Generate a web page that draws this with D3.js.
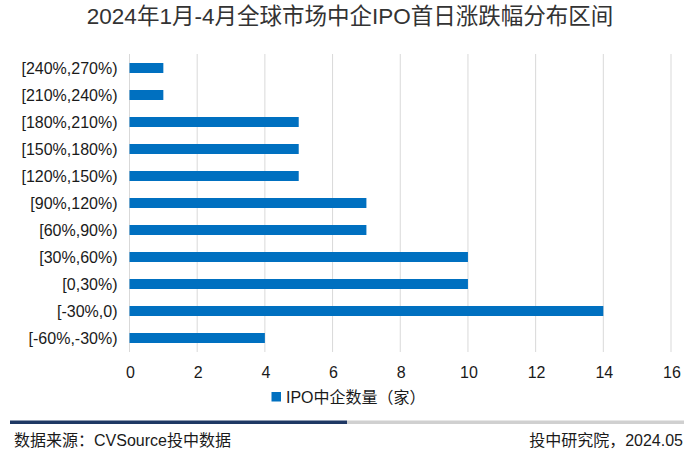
<!DOCTYPE html>
<html><head>
<meta charset="utf-8">
<script src="https://d3js.org/d3.v7.min.js"></script>
<style>
  body { margin: 0; background: #fff; }
  svg text { font-family: "Liberation Sans", "Noto Sans CJK SC", sans-serif; }
</style>
</head>
<body>
<svg id="chart" width="700" height="457"></svg>
<script>
// data
const categories = ["[240%,270%)", "[210%,240%)", "[180%,210%)", "[150%,180%)", "[120%,150%)",
                    "[90%,120%)", "[60%,90%)", "[30%,60%)", "[0,30%)", "[-30%,0)", "[-60%,-30%)"];
const counts = [1, 1, 5, 5, 5, 7, 7, 10, 10, 14, 4];
const xTicks = [0, 2, 4, 6, 8, 10, 12, 14, 16];

const svg = d3.select("#chart");

// title
svg.append("text")
  .attr("x", 350).attr("y", 24)
  .attr("text-anchor", "middle")
  .attr("font-size", 22.5)
  .attr("fill", "#333")
  .text("2024年1月-4月全球市场中企IPO首日涨跌幅分布区间");

let x = d3.scaleLinear().domain([0, 16]).range([129.5, 671]);
let y = d3.scaleBand().domain(categories).range([54.5, 351.5]).paddingInner(0.63).paddingOuter(0.315);

// gridlines
svg.append("g")
  .selectAll("line")
  .data(xTicks)
  .join("line")
  .attr("x1", d => x(d)).attr("x2", d => x(d))
  .attr("y1", 54).attr("y2", 352)
  .attr("stroke", "#d9d9d9")
  .attr("stroke-width", 1);

// x tick labels
svg.append("g")
  .selectAll("text")
  .data(xTicks)
  .join("text")
  .attr("x", d => x(d) + 1).attr("y", 378)
  .attr("text-anchor", "middle")
  .attr("font-size", 16)
  .attr("fill", "#1a1a1a")
  .text(d => d);

// category labels
svg.append("g")
  .selectAll("text")
  .data(categories)
  .join("text")
  .attr("x", 117.5)
  .attr("y", d => y(d) + y.bandwidth() / 2)
  .attr("dy", "0.36em")
  .attr("text-anchor", "end")
  .attr("font-size", 16)
  .attr("fill", "#1a1a1a")
  .text(d => d);

// bars
svg.append("g")
  .selectAll("rect")
  .data(counts)
  .join("rect")
  .attr("x", x(0))
  .attr("y", (d, i) => y(categories[i]))
  .attr("width", d => x(d) - x(0))
  .attr("height", y.bandwidth())
  .attr("fill", "#0070c0");

// legend
svg.append("rect")
  .attr("x", 271.5).attr("y", 392)
  .attr("width", 9.5).attr("height", 9.5)
  .attr("fill", "#0070c0");
svg.append("text")
  .attr("x", 286).attr("y", 403)
  .attr("font-size", 16)
  .attr("fill", "#1a1a1a")
  .text("IPO中企数量（家）");

// footer bar
svg.append("rect").attr("x", 10).attr("y", 420.5).attr("width", 337).attr("height", 3.5).attr("fill", "#1f3864");
svg.append("rect").attr("x", 347).attr("y", 420.5).attr("width", 337).attr("height", 3.5).attr("fill", "#d0d0d0");

svg.append("text")
  .attr("x", 14).attr("y", 446)
  .attr("font-size", 16)
  .attr("fill", "#1a1a1a")
  .text("数据来源：CVSource投中数据");
svg.append("text")
  .attr("x", 683).attr("y", 446)
  .attr("text-anchor", "end")
  .attr("font-size", 16)
  .attr("fill", "#1a1a1a")
  .text("投中研究院，2024.05");
</script>
</body>
</html>
